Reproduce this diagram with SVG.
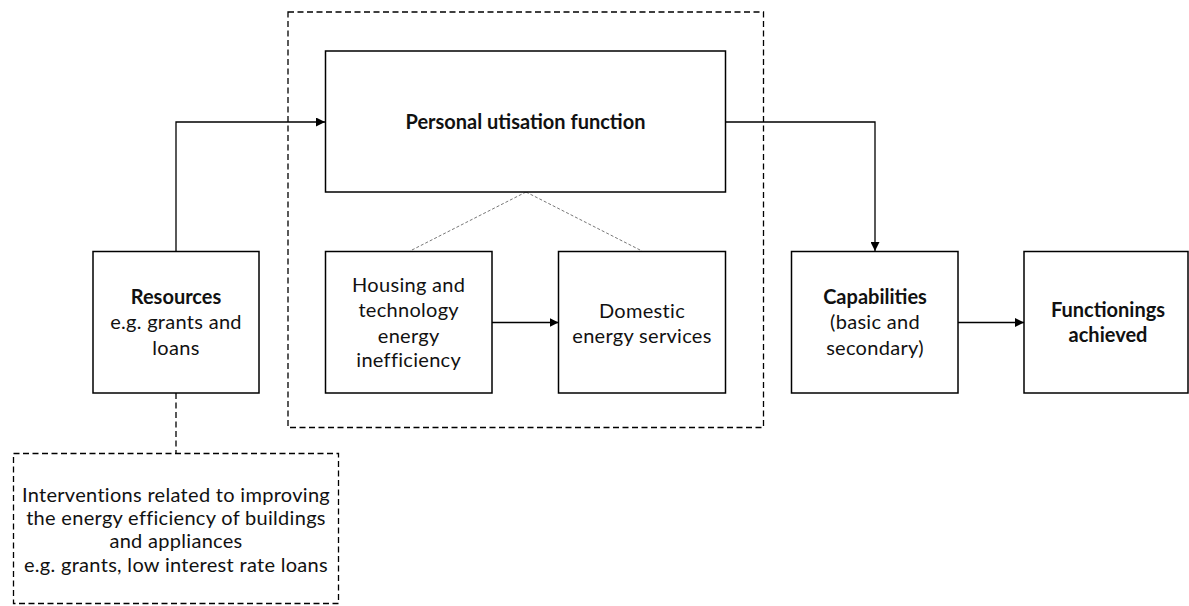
<svg xmlns="http://www.w3.org/2000/svg" width="1189" height="606" viewBox="0 0 1189 606">
<defs>
<marker id="arr" viewBox="0 0 10 10" refX="10" refY="5" markerWidth="9" markerHeight="9" markerUnits="userSpaceOnUse" orient="auto">
<path d="M0,0 L10,5 L0,10 z" fill="#000"/>
</marker>
<style>
.box{fill:#fff;stroke:#000;stroke-width:1.5}
.dbox{fill:none;stroke:#000;stroke-width:1.3;stroke-dasharray:6,3.5}
.t{font-family:Lato,"Open Sans",sans-serif;font-size:20px;fill:#111;text-anchor:middle;letter-spacing:0.3px}
.b{font-weight:bold;letter-spacing:0}
.c{fill:none;stroke:#000;stroke-width:1.3}
.g{fill:none;stroke:#777;stroke-width:1;stroke-dasharray:3,2}
</style>
</defs>
<rect width="1189" height="606" fill="#fff"/>
<g id="boundary"><rect class="dbox" x="288" y="12" width="475.5" height="415.5"/></g>
<g id="connectors">
<path class="c" d="M176,251 V122 H325" marker-end="url(#arr)"/>
<path class="c" d="M726,122 H875 V251" marker-end="url(#arr)"/>
<path class="c" d="M492,322.5 H558.5" marker-end="url(#arr)"/>
<path class="c" d="M958,322.5 H1024" marker-end="url(#arr)"/>
<path class="g" d="M526,192 L410,251 M526,192 L642,251"/>
<path class="dbox" d="M176,393 V453"/>
</g>
<g id="resources"><rect class="box" x="93" y="251.5" width="166" height="141.5"/>
<text class="t b" x="176" y="304">Resources</text>
<text class="t" x="176" y="329">e.g. grants and</text>
<text class="t" x="176" y="355">loans</text></g>
<g id="personal"><rect class="box" x="325.5" y="51" width="400" height="141"/>
<text class="t b" x="525.5" y="129">Personal utisation function</text></g>
<g id="housing"><rect class="box" x="325.5" y="251.5" width="166.5" height="141.5"/>
<text class="t" x="408.7" y="292">Housing and</text>
<text class="t" x="408.7" y="317">technology</text>
<text class="t" x="408.7" y="343">energy</text>
<text class="t" x="408.7" y="367">inefficiency</text></g>
<g id="domestic"><rect class="box" x="558.5" y="251.5" width="167" height="141.5"/>
<text class="t" x="642" y="318">Domestic</text>
<text class="t" x="642" y="343">energy services</text></g>
<g id="capabilities"><rect class="box" x="791.5" y="251.5" width="166.5" height="141.5"/>
<text class="t b" x="875" y="304">Capabilities</text>
<text class="t" x="875" y="329">(basic and</text>
<text class="t" x="875" y="355">secondary)</text></g>
<g id="functionings"><rect class="box" x="1024" y="251.5" width="164" height="141.5"/>
<text class="t b" x="1108" y="317">Functionings</text>
<text class="t b" x="1108" y="342">achieved</text></g>
<g id="interventions"><rect class="dbox" x="13.5" y="453.5" width="325" height="150"/>
<text class="t" x="176" y="502">Interventions related to improving</text>
<text class="t" x="176" y="525">the energy efficiency of buildings</text>
<text class="t" x="176" y="548">and appliances</text>
<text class="t" x="176" y="572">e.g. grants, low interest rate loans</text></g>
</svg>
